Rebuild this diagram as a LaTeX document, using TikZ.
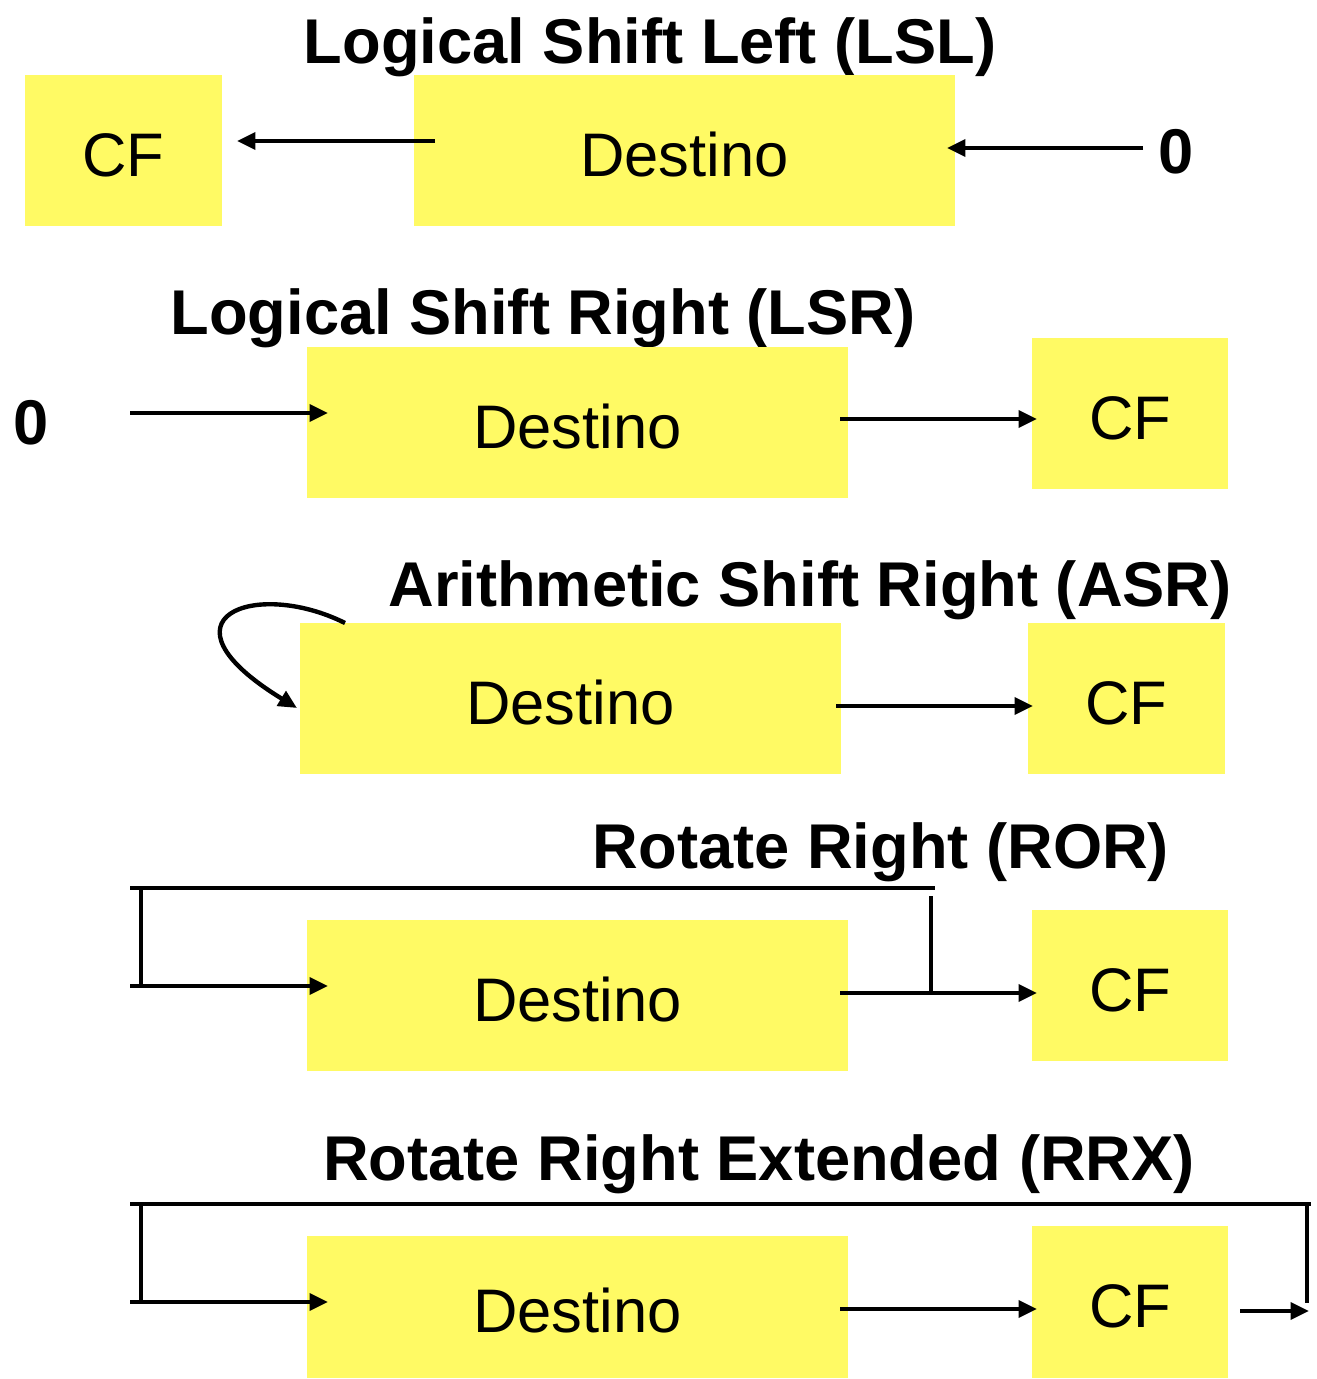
\documentclass[tikz,border=0pt]{standalone}
\usepackage{fontspec}
\setmainfont{Liberation Sans}
\usetikzlibrary{arrows.meta}
\definecolor{boxyellow}{RGB}{255,250,100}
\begin{document}
\begin{tikzpicture}[x=0.02cm,y=-0.02cm,
  regbox/.style={fill=boxyellow,draw=none,minimum height=3.02cm,inner sep=0pt,
    text height=29.5pt,text depth=0pt,
    font=\fontsize{35}{35}\selectfont},
  destbox/.style={regbox,minimum width=10.82cm},
  flagbox/.style={regbox,minimum width=3.93cm},
  optitle/.style={anchor=base,inner sep=0pt,font=\fontsize{36}{36}\selectfont\bfseries},
  zero/.style={inner sep=0pt,font=\fontsize{36}{36}\selectfont\bfseries},
  wire/.style={line width=2.5pt},
  flow/.style={wire,-{Triangle[length=10.5pt,width=9.5pt]}}]
\useasboundingbox (0,0) rectangle (1316,1379);

% ---- Logical Shift Left
\node[optitle] (t1) at (650,63) {Logical Shift Left (LSL)};
\node[flagbox] (cf1) at (123.5,150.5) {CF};
\node[destbox] (d1) at (684.5,150.5) {Destino};
\node[zero] (z1) at (1176,152) {0};
\coordinate (d1out) at (435,141);
\coordinate (cf1in) at (237,141);
\coordinate (z1out) at (1143,148);
\coordinate (d1in) at (947,148);
\draw[flow] (d1out) -- (cf1in);
\draw[flow] (z1out) -- (d1in);

% ---- Logical Shift Right
\node[optitle] (t2) at (543,334) {Logical Shift Right (LSR)};
\node[zero] (z2) at (31,423) {0};
\node[destbox] (d2) at (577.5,422.5) {Destino};
\node[flagbox] (cf2) at (1130,413.5) {CF};
\coordinate (z2out) at (130,413);
\coordinate (d2in) at (328,413);
\coordinate (d2out) at (840,419);
\coordinate (cf2in) at (1037,419);
\draw[flow] (z2out) -- (d2in);
\draw[flow] (d2out) -- (cf2in);

% ---- Arithmetic Shift Right
\node[optitle] (t3) at (810,606) {Arithmetic Shift Right (ASR)};
\node[destbox] (d3) at (570.5,698.5) {Destino};
\node[flagbox] (cf3) at (1126.5,698.5) {CF};
\coordinate (d3msb) at (345,623);
\coordinate (d3in) at (297,708);
\coordinate (d3out) at (836,706);
\coordinate (cf3in) at (1033,706);
\draw[flow] (d3msb) .. controls (255,578) and (150,618) .. (d3in);
\draw[flow] (d3out) -- (cf3in);

% ---- Rotate Right
\node[optitle] (t4) at (881,868) {Rotate Right (ROR)};
\node[destbox] (d4) at (577.5,995.5) {Destino};
\node[flagbox] (cf4) at (1130,985.5) {CF};
\coordinate (r4a) at (130,888);
\coordinate (r4b) at (935,888);
\coordinate (r4c) at (141,888);
\coordinate (r4d) at (141,986);
\coordinate (r4e) at (130,986);
\coordinate (d4in) at (328,986);
\coordinate (d4out) at (840,993);
\coordinate (cf4in) at (1037,993);
\coordinate (r4tap) at (931,896);
\coordinate (r4join) at (931,993);
\draw[wire] (r4a) -- (r4b);
\draw[wire] (r4c) -- (r4d);
\draw[flow] (r4e) -- (d4in);
\draw[flow] (d4out) -- (cf4in);
\draw[wire] (r4tap) -- (r4join);

% ---- Rotate Right Extended
\node[optitle] (t5) at (759,1180) {Rotate Right Extended (RRX)};
\node[regbox,minimum width=10.82cm,minimum height=2.84cm] (d5) at (577.5,1307) {Destino};
\node[regbox,minimum width=3.93cm,minimum height=3.04cm] (cf5) at (1130,1302) {CF};
\coordinate (r5a) at (130,1204);
\coordinate (r5b) at (1311,1204);
\coordinate (r5c) at (141,1204);
\coordinate (r5d) at (141,1302);
\coordinate (r5e) at (130,1302);
\coordinate (d5in) at (328,1302);
\coordinate (d5out) at (840,1309);
\coordinate (cf5in) at (1037,1309);
\coordinate (r5f) at (1307,1204);
\coordinate (r5g) at (1307,1303);
\coordinate (cf5out) at (1240,1311);
\coordinate (r5h) at (1309,1311);
\draw[wire] (r5a) -- (r5b);
\draw[wire] (r5c) -- (r5d);
\draw[flow] (r5e) -- (d5in);
\draw[flow] (d5out) -- (cf5in);
\draw[wire] (r5f) -- (r5g);
\draw[flow] (cf5out) -- (r5h);
\end{tikzpicture}
\end{document}
